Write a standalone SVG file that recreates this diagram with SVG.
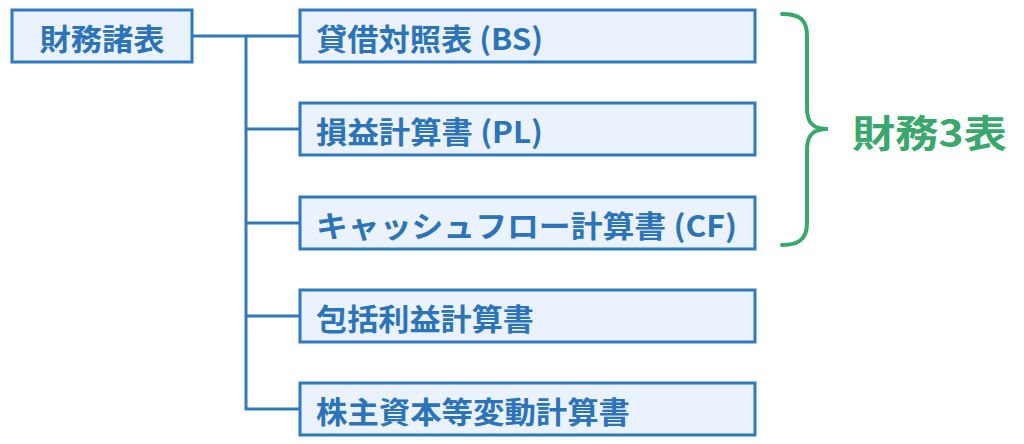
<svg xmlns="http://www.w3.org/2000/svg" width="1024" height="444" viewBox="0 0 1024 444">
<style>
.box{fill:#eaf2fe;stroke:#2f79bd;stroke-width:3}
.lbl{font-family:"Noto Sans CJK JP","Noto Sans",sans-serif;font-weight:700;font-size:30px;fill:#2c73b8;dominant-baseline:central}
.conn{fill:none;stroke:#2f79bd;stroke-width:3}
.brace{fill:none;stroke:#3aa76d;stroke-width:4;stroke-linecap:round}
.green{font-family:"Noto Sans CJK JP","Noto Sans",sans-serif;font-weight:700;font-size:38px;fill:#3aa76d;dominant-baseline:central}
</style>
<rect width="1024" height="444" fill="#ffffff"/>
<g id="connectors">
<path class="conn" d="M192 36H300M246 36V409H300M246 129H300M246 223H300M246 316H300"/>
</g>
<g id="root">
<rect class="box" x="12" y="10" width="180" height="52"/>
<text class="lbl" x="102" y="37" text-anchor="middle" textLength="125" lengthAdjust="spacingAndGlyphs">財務諸表</text>
</g>
<g id="bs">
<rect class="box" x="300" y="10" width="455" height="52"/>
<text class="lbl" x="316" y="37" textLength="227" lengthAdjust="spacingAndGlyphs">貸借対照表 (BS)</text>
</g>
<g id="pl">
<rect class="box" x="300" y="103" width="455" height="52"/>
<text class="lbl" x="316" y="130" textLength="227" lengthAdjust="spacingAndGlyphs">損益計算書 (PL)</text>
</g>
<g id="cf">
<rect class="box" x="300" y="197" width="455" height="52"/>
<text class="lbl" x="316" y="224" textLength="421" lengthAdjust="spacingAndGlyphs">キャッシュフロー計算書 (CF)</text>
</g>
<g id="ci">
<rect class="box" x="300" y="290" width="455" height="52"/>
<text class="lbl" x="316" y="317" textLength="218" lengthAdjust="spacingAndGlyphs">包括利益計算書</text>
</g>
<g id="ss">
<rect class="box" x="300" y="383" width="455" height="52"/>
<text class="lbl" x="316" y="410" textLength="314" lengthAdjust="spacingAndGlyphs">株主資本等変動計算書</text>
</g>
<g id="brace-group">
<path class="brace" d="M782 14C800 14 807 20 807 36V108C807 122 812 129 828 129C812 129 807 136 807 150V223C807 238 800 245 782 245"/>
<text class="green" x="852" y="130" textLength="155" lengthAdjust="spacingAndGlyphs">財務3表</text>
</g>
</svg>
